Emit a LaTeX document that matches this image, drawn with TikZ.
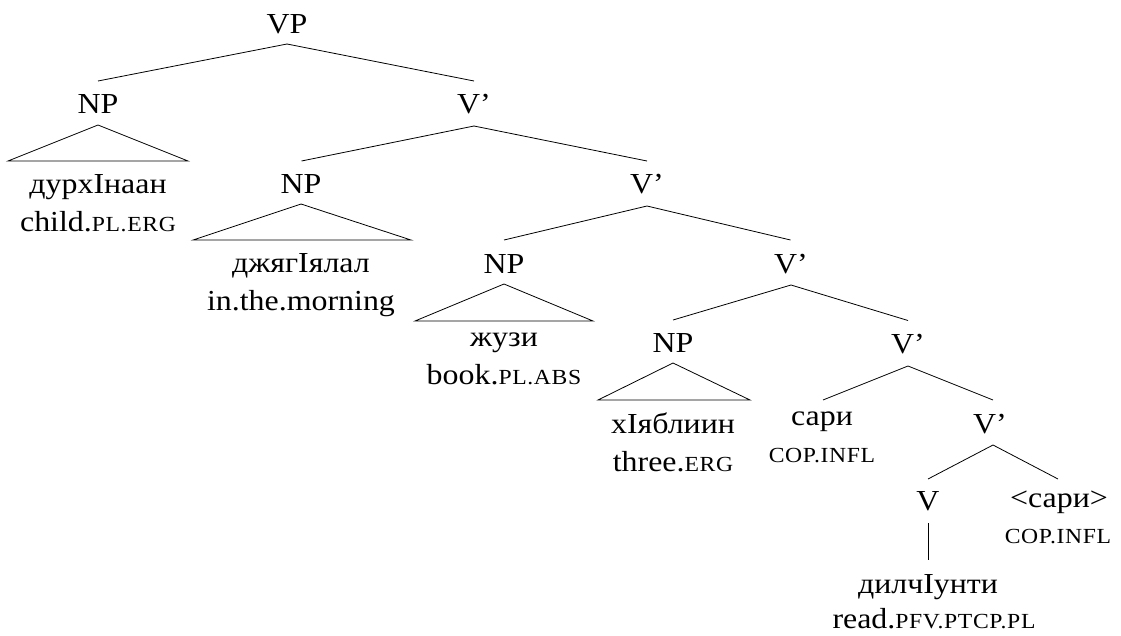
\documentclass[tikz,border=0pt]{standalone}
\usepackage{fontspec}
\setmainfont[FakeStretch=1.1]{Liberation Serif}
% small capitals for the gloss abbreviations
\newcommand\gl[1]{{\fontsize{21.5}{21.5}\selectfont\addfontfeatures{LetterSpace=3}#1}}
\tikzset{
  lbl/.style={anchor=base, inner sep=0pt, font=\fontsize{29}{34}\selectfont},
  branch/.style={line width=0.8pt, line join=miter},
}
\begin{document}
\begin{tikzpicture}[x=1pt, y=-1pt]
\useasboundingbox (0,0) rectangle (1121,635);

% labels
\node[lbl] (vp)   at (287,33)  {VP};
\node[lbl] (np1)  at (98,113)  {NP};
\node[lbl] (np1w) at (98,193)  {дурхIнаан};
\node[lbl] (np1g) at (98,231)  {child.\gl{PL.ERG}};
\node[lbl] (vb1)  at (474,113) {V’};
\node[lbl] (np2)  at (301,193) {NP};
\node[lbl] (np2w) at (301,272) {джягIялал};
\node[lbl] (np2g) at (301,310) {in.the.morning};
\node[lbl] (vb2)  at (647,193) {V’};
\node[lbl] (np3)  at (504,273) {NP};
\node[lbl] (np3w) at (504,346) {жузи};
\node[lbl] (np3g) at (504,384) {book.\gl{PL.ABS}};
\node[lbl] (vb3)  at (791,273) {V’};
\node[lbl] (np4)  at (673,352) {NP};
\node[lbl] (np4w) at (673,433) {хIяблиин};
\node[lbl] (np4g) at (673,471) {three.\gl{ERG}};
\node[lbl] (vb4)  at (908,353) {V’};
\node[lbl] (cop1) at (822,425) {сари};
\node[lbl] (cop1g) at (822,462) {\gl{COP.INFL}};
\node[lbl] (vb5)  at (990,433) {V’};
\node[lbl] (v)    at (928,510) {V};
\node[lbl] (cop2) at (1059,507) {<сари>};
\node[lbl] (cop2g) at (1058,543) {\gl{COP.INFL}};
\node[lbl] (vw)   at (928,593) {дилчIунти};
\node[lbl] (vg)   at (934,628) {read.\gl{PFV.PTCP.PL}};

% branch points
\coordinate (vp-a)  at (287,44);
\coordinate (np1-t) at (98,81);
\coordinate (vb1-t) at (474,81);
\coordinate (vb1-a) at (474,126);
\coordinate (np2-t) at (301.5,161);
\coordinate (vb2-t) at (647,161);
\coordinate (vb2-a) at (647,206);
\coordinate (np3-t) at (504,240);
\coordinate (vb3-t) at (790.5,240);
\coordinate (vb3-a) at (791,285);
\coordinate (np4-t) at (673,320);
\coordinate (vb4-t) at (908,320.5);
\coordinate (vb4-a) at (908,366);
\coordinate (cop1-t) at (823,400);
\coordinate (vb5-t) at (993,400);
\coordinate (vb5-a) at (993,445);
\coordinate (v-t)   at (928,479);
\coordinate (cop2-t) at (1058,479);
\coordinate (v-a)   at (928,523);
\coordinate (vw-t)  at (928,560);

% triangle corners
\coordinate (np1-a) at (98,125);
\coordinate (np1-l) at (8,161);
\coordinate (np1-r) at (188,161);
\coordinate (np2-a) at (301,204);
\coordinate (np2-l) at (193,240);
\coordinate (np2-r) at (411,240);
\coordinate (np3-a) at (504,284);
\coordinate (np3-l) at (415,321);
\coordinate (np3-r) at (593,321);
\coordinate (np4-a) at (673,363);
\coordinate (np4-l) at (598,400);
\coordinate (np4-r) at (750,400);

% branches
\draw[branch] (np1-t) -- (vp-a) -- (vb1-t);
\draw[branch] (np2-t) -- (vb1-a) -- (vb2-t);
\draw[branch] (np3-t) -- (vb2-a) -- (vb3-t);
\draw[branch] (np4-t) -- (vb3-a) -- (vb4-t);
\draw[branch] (cop1-t) -- (vb4-a) -- (vb5-t);
\draw[branch] (v-t) -- (vb5-a) -- (cop2-t);
\draw[branch] (v-a) -- (vw-t);

% roof triangles
\draw[branch] (np1-a) -- (np1-l) -- (np1-r) -- cycle;
\draw[branch] (np2-a) -- (np2-l) -- (np2-r) -- cycle;
\draw[branch] (np3-a) -- (np3-l) -- (np3-r) -- cycle;
\draw[branch] (np4-a) -- (np4-l) -- (np4-r) -- cycle;
\end{tikzpicture}
\end{document}
